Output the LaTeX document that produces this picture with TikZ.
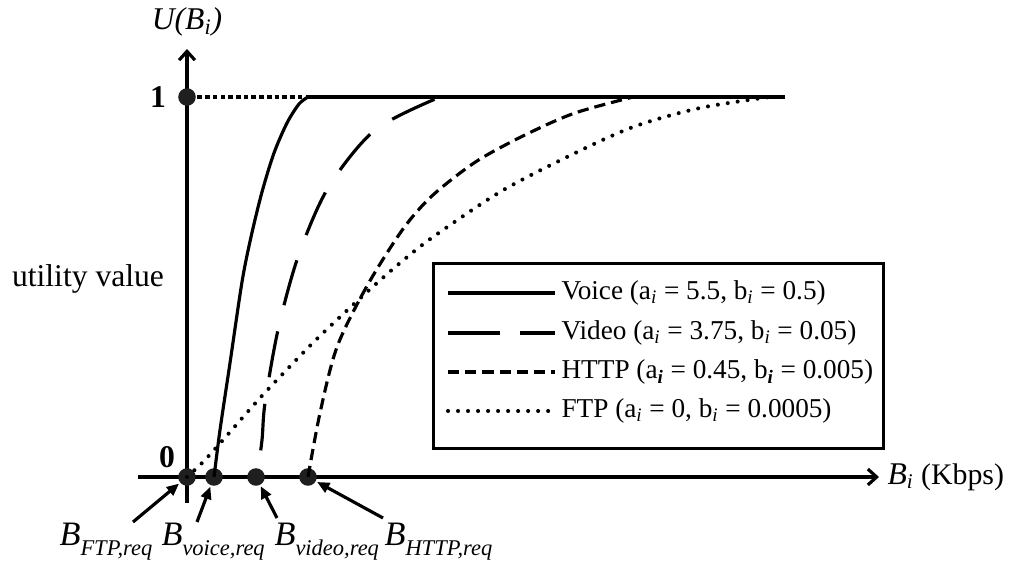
\documentclass[tikz,border=0pt]{standalone}
\usepackage{fontspec}
\setmainfont{Liberation Serif}
\usetikzlibrary{arrows.meta,positioning}

% bandwidth label with a lowered italic subscript
\newcommand{\Breq}[1]{{\fontsize{19.5}{22}\selectfont\itshape B}\raisebox{-0.32em}{\fontsize{12.8}{14}\selectfont\itshape #1,req}}
\newcommand{\sub}[1]{\textsubscript{\itshape #1}}

\begin{document}
\begin{tikzpicture}[x=0.02cm,y=-0.02cm,line width=1.8pt,
    font=\fontsize{17}{20}\selectfont,
    dot/.style={circle,fill=black!88,inner sep=0pt,minimum size=10pt},
    breq/.style={inner sep=0pt,anchor=base west},
    ax/.style={-{Straight Barb[length=5pt,width=9pt]}},
    ptr/.style={-{Triangle[length=7pt,width=6pt]}},
    voice/.style={},
    video/.style={dash pattern=on 26.6pt off 15.3pt,dash phase=26.6pt},
    videokey/.style={dash pattern=on 29.5pt off 11.3pt},
    http/.style={dash pattern=on 6.4pt off 3.4pt},
    ftp/.style={line width=2.3pt,line cap=round,dash pattern=on 0pt off 5.7pt},
    level/.style={line width=2pt,dash pattern=on 2.6pt off 1.8pt}]
  \useasboundingbox (0,0) rectangle (1011,563);

  % axes
  \coordinate (o) at (187,477);
  \coordinate (ybot) at (187,503);
  \coordinate (ytop) at (187,49);
  \coordinate (xleft) at (138,477);
  \coordinate (xend) at (879,477);
  \draw[ax] (ybot) -- (ytop);
  \draw[ax] (xleft) -- (xend);
  \node[anchor=west,inner sep=4pt] (xlab) at (xend) {{\fontsize{18}{20}\selectfont\itshape B}\sub{i} (Kbps)};
  \node[font=\fontsize{18}{20}\selectfont] (ylab) at (187,22) {\itshape U(B\sub{i})};
  \node[font=\fontsize{18}{20}\selectfont] (ulab) at (88,279) {utility value};
  \node[font=\fontsize{18}{20}\selectfont\bfseries] (one) at (158,97) {1};
  \node[font=\fontsize{18}{20}\selectfont\bfseries] (zero) at (167,457) {0};

  % required bandwidths on the axis
  \node[dot] (done) at (187,97) {};
  \node[dot] (dFTP) at (o) {};
  \node[dot] (dvoice) at (214,477) {};
  \node[dot] (dvideo) at (256,477) {};
  \node[dot] (dHTTP) at (308,477) {};

  % utility curves
  \coordinate (sat) at (307,97);
  \coordinate (uend) at (785,97);
  \draw[level] (done) -- (sat);
  \draw (sat) -- (uend);
  \draw[voice] plot[smooth] coordinates {(214,477) (220,430) (230,363) (242,282) (251,237) (262,192) (274,153) (287,123) (299,104) (308,97)};
  \draw[video] plot[smooth] coordinates {(257,477) (262,440) (265,403) (278,330) (298,257) (328,188) (375,130) (440,97)};
  \draw[http] plot[smooth] coordinates {(308,477) (320,413) (337,347) (367,286) (403,229) (433,195) (477,161) (527,134) (575,113) (633,97)};
  \draw[ftp] plot[smooth] coordinates {(187,477) (203,462) (223,440) (260,398) (299,357) (323,333) (367,292) (400,263) (433,237) (500,192) (567,157) (633,127) (700,108) (770,97)};

  % legend
  \node[draw,anchor=north west,minimum width=9cm,minimum height=3.7cm,inner sep=0pt] (legend) at (432,262) {};
  \foreach \y/\sty/\txt in {
      293/voice/{Voice (a\sub{i} = 5.5, b\sub{i} = 0.5)},
      333/videokey/{Video (a\sub{i} = 3.75, b\sub{i} = 0.05)},
      372/http/{HTTP (a\textsubscript{\bfseries\itshape i} = 0.45, b\textsubscript{\bfseries\itshape i} = 0.005)},
      411/ftp/{FTP (a\sub{i} = 0, b\sub{i} = 0.0005)}} {
    \coordinate (s\y) at (448,\y);
    \coordinate (e\y) at (555,\y);
    \draw[\sty] (s\y) -- (e\y);
    \node[anchor=west,inner sep=0pt,font=\fontsize{15.5}{18}\selectfont] (t\y) at (560,\y) {\txt};
  }

  % labels under the axis
  \node[breq] (lFTP) at (58,546) {\Breq{FTP}};
  \node[breq] (lvoice) at (160,546) {\Breq{voice}};
  \node[breq] (lvideo) at (273,546) {\Breq{video}};
  \node[breq] (lHTTP) at (383,546) {\Breq{HTTP}};
  \coordinate (tFTP) at (133,522);
  \coordinate (tvoice) at (197,522);
  \coordinate (tvideo) at (277,518);
  \coordinate (tHTTP) at (383,518);
  \draw[ptr] (tFTP) -- (dFTP);
  \draw[ptr] (tvoice) -- (dvoice);
  \draw[ptr] (tvideo) -- (dvideo);
  \draw[ptr] (tHTTP) -- (dHTTP);
\end{tikzpicture}
\end{document}
